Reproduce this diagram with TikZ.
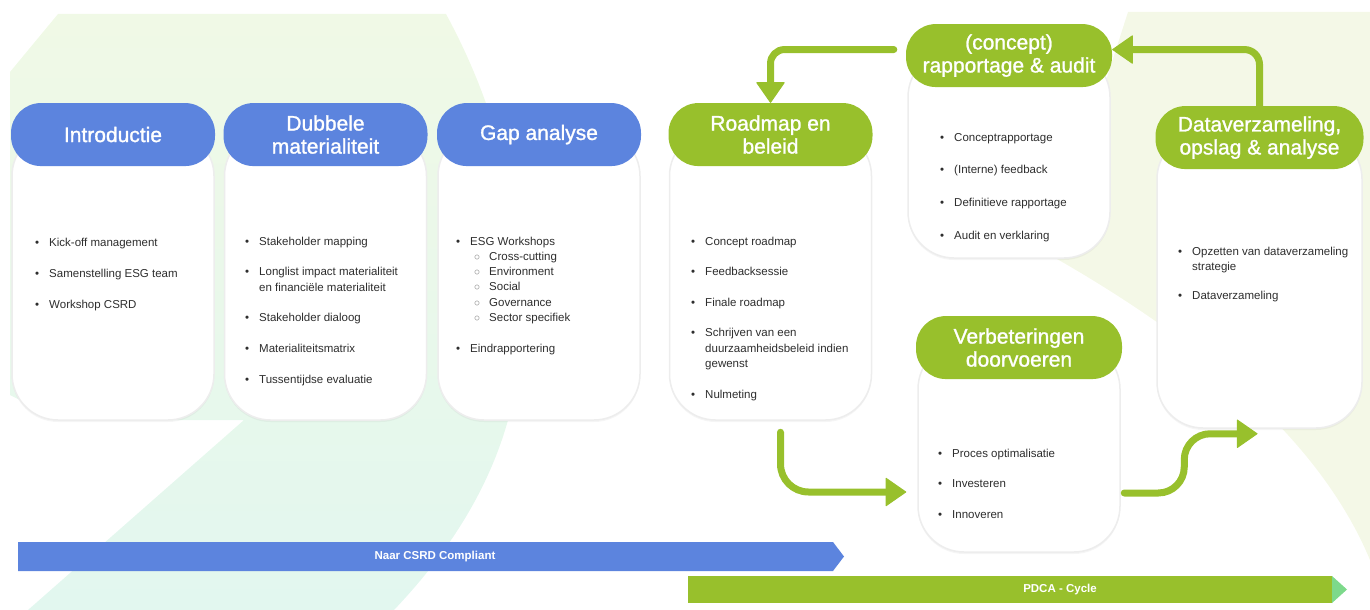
\documentclass[tikz,border=0pt]{standalone}
\usepackage{fontspec}
\setmainfont{Liberation Sans}
\newfontfamily\headfont{Liberation Sans}[FakeBold=1.2]
\usetikzlibrary{positioning,arrows.meta,shadows}

\definecolor{pblue}{HTML}{5C84DE}
\definecolor{pgreen}{HTML}{98C02C}
\definecolor{ptip}{HTML}{7DD98B}
\definecolor{bglime}{HTML}{F0F9E6}
\definecolor{bgmint}{HTML}{E2F7EF}
\definecolor{bgolive}{HTML}{F4F8E7}
\definecolor{txt}{HTML}{2E2E2E}

\newcommand{\subitm}[1]{\hspace{7pt}\makebox[0pt]{\textcolor{black!50}{$\circ$}}\hspace{12pt}#1}

\begin{document}
\begin{tikzpicture}[x=1pt,y=-1pt,
        pill/.style={rounded corners=30pt, minimum width=204pt, minimum height=63pt,
                     inner sep=2pt, text=white, align=center, font=\headfont\fontsize{21}{23}\selectfont},
        blue head/.style={pill, fill=pblue},
        green head/.style={pill, fill=pgreen},
        body/.style={fill=white, draw=black!7, line width=1.5pt, rounded corners=46pt,
                     minimum width=202pt,
                     drop shadow={shadow xshift=0pt, shadow yshift=-2pt, opacity=0.08}},
        item list/.style={anchor=base west, inner sep=0pt, text=txt,
                          font=\fontsize{11.5}{15.3}\selectfont},
        flow/.style={draw=pgreen, line width=7pt, line cap=round,
                     -{Triangle[length=21pt,width=29pt,line width=1pt,fill=pgreen,round]}},
        bar text/.style={text=white, font=\bfseries\fontsize{11.5}{13}\selectfont}]

        \useasboundingbox (0,0) rectangle (1370,610);

        % Background
        \shade[top color=bglime, bottom color=bgmint]
            (58,14) -- (446,14) .. controls (490,95) and (525,200) .. (522,330)
            .. controls (518,440) and (470,530) .. (394,610) -- (28,610)
            -- (244,420) -- (60,420) -- (10,395) -- (10,72) -- cycle;
        \fill[bgolive] (1128,12) -- (1370,12) -- (1370,560)
            .. controls (1320,440) and (1200,340) .. (1050,255) -- cycle;

        % Define bodies
        \node[body, minimum height=290pt] (introbody) at (113,275) {};
        \node[body, minimum height=290pt] (dubbelebody) [right=9pt of introbody] {};
        \node[body, minimum height=290pt] (gapbody) [right=10pt of dubbelebody] {};
        \node[body, minimum height=290pt] (roadmapbody) [right=28pt of gapbody] {};
        \node[body, minimum height=207pt] (conceptbody) at (1009,154.5) {};
        \node[body, minimum height=295pt, minimum width=205pt] (databody) at (1259.5,280.5) {};
        \node[body, minimum height=209pt] (verbbody) at (1019,447.5) {};

        % Define headers
        \node[blue head] (intro) [above=-37pt of introbody] {Introductie};
        \node[blue head] (dubbele) [above=-37pt of dubbelebody] {Dubbele\\materialiteit};
        \node[blue head] (gap) [above=-37pt of gapbody] {Gap analyse};
        \node[green head] (roadmap) [above=-37pt of roadmapbody] {Roadmap en\\beleid};
        \node[green head, minimum width=206pt] (concept) [above=-37pt of conceptbody] {(concept)\\rapportage \& audit};
        \node[green head, minimum width=208pt] (data) [above=-37pt of databody] {Dataverzameling,\\opslag \& analyse};
        \node[green head, minimum width=206pt] (verb) [above=-37pt of verbbody] {Verbeteringen\\doorvoeren};

        % Lists
        \node[item list] (introlist) at (35,246) {\begin{tabular}[t]{@{}l@{\hspace{10pt}}l@{}}
            \textbullet & Kick-off management\\[16pt]
            \textbullet & Samenstelling ESG team\\[16pt]
            \textbullet & Workshop CSRD
        \end{tabular}};
        \node[item list] (dubbelelist) at (245,245) {\begin{tabular}[t]{@{}l@{\hspace{10pt}}l@{}}
            \textbullet & Stakeholder mapping\\[15.5pt]
            \textbullet & Longlist impact materialiteit\\
                        & en financiële materialiteit\\[15.5pt]
            \textbullet & Stakeholder dialoog\\[15.5pt]
            \textbullet & Materialiteitsmatrix\\[15.5pt]
            \textbullet & Tussentijdse evaluatie
        \end{tabular}};
        \node[item list] (gaplist) at (456,245) {\begin{tabular}[t]{@{}l@{\hspace{10pt}}l@{}}
            \textbullet & ESG Workshops\\
                        & \subitm{Cross-cutting}\\
                        & \subitm{Environment}\\
                        & \subitm{Social}\\
                        & \subitm{Governance}\\
                        & \subitm{Sector specifiek}\\[15.5pt]
            \textbullet & Eindrapportering
        \end{tabular}};
        \node[item list] (roadmaplist) at (691,245) {\begin{tabular}[t]{@{}l@{\hspace{10pt}}l@{}}
            \textbullet & Concept roadmap\\[15.3pt]
            \textbullet & Feedbacksessie\\[15.3pt]
            \textbullet & Finale roadmap\\[15.3pt]
            \textbullet & Schrijven van een\\
                        & duurzaamheidsbeleid indien\\
                        & gewenst\\[15.3pt]
            \textbullet & Nulmeting
        \end{tabular}};
        \node[item list] (conceptlist) at (940,141) {\begin{tabular}[t]{@{}l@{\hspace{10pt}}l@{}}
            \textbullet & Conceptrapportage\\[17.4pt]
            \textbullet & (Interne) feedback\\[17.4pt]
            \textbullet & Definitieve rapportage\\[17.4pt]
            \textbullet & Audit en verklaring
        \end{tabular}};
        \node[item list] (datalist) at (1178,255) {\begin{tabular}[t]{@{}l@{\hspace{10pt}}l@{}}
            \textbullet & Opzetten van dataverzameling\\
                        & strategie\\[13.7pt]
            \textbullet & Dataverzameling
        \end{tabular}};
        \node[item list] (verblist) at (938,457) {\begin{tabular}[t]{@{}l@{\hspace{10pt}}l@{}}
            \textbullet & Proces optimalisatie\\[15.5pt]
            \textbullet & Investeren\\[15.5pt]
            \textbullet & Innoveren
        \end{tabular}};

        % Draw arrows
        \draw[flow, rounded corners=14pt] ([xshift=-12pt,yshift=6pt]concept.west) -| (roadmap.north);
        \draw[flow, rounded corners=15pt] (data.north) |- ([yshift=6pt]concept.east);
        \draw[flow, rounded corners=28pt] ([xshift=10pt,yshift=-11.5pt]roadmapbody.south)
            |- ([xshift=-11pt,yshift=-44.5pt]verbbody.west);
        \draw[flow, rounded corners=26pt] ([xshift=3.5pt,yshift=-45.5pt]verbbody.east)
            -- ++(60,0) |- ([xshift=-2pt,yshift=-5pt]databody.south);

        % Bars
        \fill[pblue] (18,542) -- (833,542) -- (844,556.5) -- (833,571) -- (18,571) -- cycle;
        \node[bar text] (csrd) at (435,556.5) {Naar CSRD Compliant};
        \fill[pgreen] (688,576) rectangle (1332,603);
        \fill[ptip] (1332,576) -- (1347,589.5) -- (1332,603) -- cycle;
        \node[bar text] (pdca) at (1060,589.5) {PDCA - Cycle};

\end{tikzpicture}
\end{document}
